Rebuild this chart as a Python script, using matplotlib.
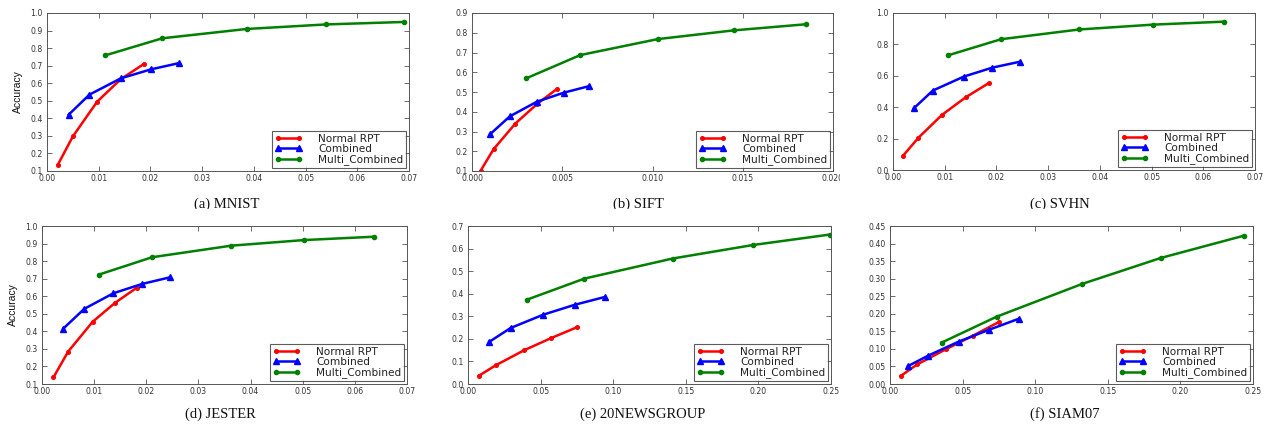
import matplotlib
matplotlib.use("Agg")
import matplotlib.pyplot as plt
from matplotlib.transforms import Bbox
from matplotlib import font_manager

# ---------------- data ----------------
titles = ["(a) MNIST", "(b) SIFT", "(c) SVHN", "(d) JESTER", "(e) 20NEWSGROUP", "(f) SIAM07"]
series_names = ["Normal RPT", "Combined", "Multi_Combined"]

# (a) MNIST
mnist_rpt_x = [0.0021, 0.0050, 0.0097, 0.0143, 0.0187]
mnist_rpt_y = [0.136, 0.297, 0.495, 0.624, 0.709]
mnist_comb_x = [0.0042, 0.0082, 0.0143, 0.0201, 0.0256]
mnist_comb_y = [0.421, 0.535, 0.628, 0.679, 0.715]
mnist_multi_x = [0.0113, 0.0223, 0.0386, 0.0540, 0.0691]
mnist_multi_y = [0.759, 0.856, 0.909, 0.935, 0.949]

# (b) SIFT
sift_rpt_x = [0.00048, 0.0012, 0.0024, 0.0036, 0.0047]
sift_rpt_y = [0.102, 0.211, 0.340, 0.439, 0.515]
sift_comb_x = [0.0010, 0.0021, 0.0036, 0.0051, 0.0065]
sift_comb_y = [0.286, 0.377, 0.451, 0.497, 0.530]
sift_multi_x = [0.0030, 0.0060, 0.0103, 0.0145, 0.0185]
sift_multi_y = [0.569, 0.687, 0.768, 0.812, 0.843]

# (c) SVHN
svhn_rpt_x = [0.0019, 0.0049, 0.0095, 0.0141, 0.0185]
svhn_rpt_y = [0.089, 0.205, 0.352, 0.464, 0.553]
svhn_comb_x = [0.0040, 0.0077, 0.0137, 0.0192, 0.0246]
svhn_comb_y = [0.392, 0.506, 0.595, 0.652, 0.690]
svhn_multi_x = [0.0106, 0.0209, 0.0360, 0.0503, 0.0641]
svhn_multi_y = [0.730, 0.833, 0.895, 0.926, 0.945]

# (d) JESTER
jester_rpt_x = [0.0022, 0.0050, 0.0097, 0.0140, 0.0182]
jester_rpt_y = [0.138, 0.284, 0.454, 0.562, 0.649]
jester_comb_x = [0.0041, 0.0081, 0.0137, 0.0192, 0.0246]
jester_comb_y = [0.416, 0.528, 0.617, 0.670, 0.708]
jester_multi_x = [0.0109, 0.0211, 0.0363, 0.0503, 0.0637]
jester_multi_y = [0.723, 0.822, 0.888, 0.920, 0.939]

# (e) 20NEWSGROUP
news_rpt_x = [0.0076, 0.0194, 0.0385, 0.0571, 0.0749]
news_rpt_y = [0.037, 0.084, 0.149, 0.203, 0.251]
news_comb_x = [0.0147, 0.0293, 0.0518, 0.0735, 0.0945]
news_comb_y = [0.187, 0.248, 0.307, 0.351, 0.386]
news_multi_x = [0.0403, 0.0802, 0.1410, 0.1965, 0.2491]
news_multi_y = [0.373, 0.467, 0.556, 0.616, 0.662]

# (f) SIAM07
siam_rpt_x = [0.0078, 0.0188, 0.0385, 0.0569, 0.0752]
siam_rpt_y = [0.024, 0.056, 0.099, 0.137, 0.177]
siam_comb_x = [0.0124, 0.0264, 0.0475, 0.0679, 0.0888]
siam_comb_y = [0.051, 0.081, 0.121, 0.154, 0.186]
siam_multi_x = [0.0356, 0.0736, 0.1323, 0.1865, 0.2438]
siam_multi_y = [0.118, 0.192, 0.285, 0.359, 0.4225]

panels = [
    (mnist_rpt_x, mnist_rpt_y, mnist_comb_x, mnist_comb_y, mnist_multi_x, mnist_multi_y),
    (sift_rpt_x, sift_rpt_y, sift_comb_x, sift_comb_y, sift_multi_x, sift_multi_y),
    (svhn_rpt_x, svhn_rpt_y, svhn_comb_x, svhn_comb_y, svhn_multi_x, svhn_multi_y),
    (jester_rpt_x, jester_rpt_y, jester_comb_x, jester_comb_y, jester_multi_x, jester_multi_y),
    (news_rpt_x, news_rpt_y, news_comb_x, news_comb_y, news_multi_x, news_multi_y),
    (siam_rpt_x, siam_rpt_y, siam_comb_x, siam_comb_y, siam_multi_x, siam_multi_y),
]

xlims = [(0, 0.07), (0, 0.02), (0, 0.07), (0, 0.07), (0, 0.25), (0, 0.25)]
ylims = [(0.1, 1.0), (0.1, 0.9), (0.0, 1.0), (0.1, 1.0), (0.0, 0.7), (0.0, 0.45)]
xticks = [
    [0.00, 0.01, 0.02, 0.03, 0.04, 0.05, 0.06, 0.07],
    [0.000, 0.005, 0.010, 0.015, 0.020],
    [0.00, 0.01, 0.02, 0.03, 0.04, 0.05, 0.06, 0.07],
    [0.00, 0.01, 0.02, 0.03, 0.04, 0.05, 0.06, 0.07],
    [0.00, 0.05, 0.10, 0.15, 0.20, 0.25],
    [0.00, 0.05, 0.10, 0.15, 0.20, 0.25],
]
xfmt = ["%.2f", "%.3f", "%.2f", "%.2f", "%.2f", "%.2f"]
yticks = [
    [0.1, 0.2, 0.3, 0.4, 0.5, 0.6, 0.7, 0.8, 0.9, 1.0],
    [0.1, 0.2, 0.3, 0.4, 0.5, 0.6, 0.7, 0.8, 0.9],
    [0.0, 0.2, 0.4, 0.6, 0.8, 1.0],
    [0.1, 0.2, 0.3, 0.4, 0.5, 0.6, 0.7, 0.8, 0.9, 1.0],
    [0.0, 0.1, 0.2, 0.3, 0.4, 0.5, 0.6, 0.7],
    [0.00, 0.05, 0.10, 0.15, 0.20, 0.25, 0.30, 0.35, 0.40, 0.45],
]
yfmt = ["%.1f", "%.1f", "%.1f", "%.1f", "%.1f", "%.2f"]

# ---------------- layout (pixels) ----------------
W, H = 1266, 424
boxes = [(47, 409, 13, 171), (472, 833, 13, 171), (893, 1255, 13, 170),
         (42, 407, 226, 384), (468, 831, 226, 384), (890, 1253, 226, 384)]
regions = [(0, 420, 0, 209), (420, 840, 0, 209), (840, 1266, 0, 209),
           (0, 420, 210, 424), (420, 840, 210, 424), (840, 1266, 210, 424)]
caption_xy = [(227, 204), (638, 204), (1060, 204), (220, 414), (643, 414), (1065, 414)]

# pick a narrow font for the y label if one is installed
def _has(fam):
    try:
        font_manager.findfont(font_manager.FontProperties(family=fam), fallback_to_default=False)
        return True
    except Exception:
        return False

if _has("Liberation Sans Narrow"):
    ylab_fam, ylab_size = "Liberation Sans Narrow", 9
else:
    ylab_fam, ylab_size = "Liberation Sans", 7.5

fig = plt.figure(figsize=(W / 100, H / 100), dpi=100)

tick_font = dict(family="DejaVu Sans", size=5.6, color="#333333")

for i in range(6):
    l, r, t, b = boxes[i]
    ax = fig.add_axes([l / W, 1 - b / H, (r - l) / W, (b - t) / H])
    rx, ry, cx, cy, mx, my = panels[i]
    ax.plot(rx, ry, color="#ff0000", lw=1.8, marker="o", ms=2.6, mec="#ff0000", label=series_names[0])
    ax.plot(cx, cy, color="#0000ff", lw=1.8, marker="^", ms=5, mec="#0000ff", label=series_names[1])
    ax.plot(mx, my, color="#008000", lw=1.8, marker="o", ms=3.0, mec="#008000", label=series_names[2])
    ax.set_xlim(*xlims[i])
    ax.set_ylim(*ylims[i])
    ax.set_xticks(xticks[i])
    ax.set_xticklabels([xfmt[i] % v for v in xticks[i]], **tick_font)
    ax.set_yticks(yticks[i])
    ax.set_yticklabels([yfmt[i] % v for v in yticks[i]], **tick_font)
    ax.tick_params(direction="in", length=3.5, width=0.6, color="#555555",
                   top=True, right=True)
    ax.tick_params(axis="x", pad=2.5)
    ax.tick_params(axis="y", pad=3)
    for s in ax.spines.values():
        s.set_linewidth(0.7)
        s.set_color("#555555")
    leg = ax.legend(loc="lower right", numpoints=2, fontsize=7.6, frameon=True,
                    fancybox=False, borderaxespad=0.3, handlelength=2.6,
                    handletextpad=1.5, borderpad=0.25, labelspacing=0.02)
    leg.get_frame().set_edgecolor("#333333")
    leg.get_frame().set_linewidth(0.8)
    for txt in leg.get_texts():
        txt.set_color("#222222")
    if i in (0, 3):
        ax.set_ylabel("Accuracy", family=[ylab_fam, "DejaVu Sans"],
                      fontsize=ylab_size, labelpad=5.5, color="#111111")

    rl, rr, rt, rb = regions[i]
    clip = Bbox.from_extents(rl, H - rb, rr, H - rt)
    for lab in ax.get_xticklabels() + ax.get_yticklabels():
        lab.set_clip_on(True)
        lab.set_clip_box(clip)

    cxp, cyp = caption_xy[i]
    cap = fig.text(cxp / W, 1 - cyp / H, titles[i], family="Liberation Serif",
                   fontsize=10.5, ha="center", va="center", color="#111111")
    cap.set_clip_on(True)
    cap.set_clip_box(clip)

fig.savefig("out.png", dpi=100)
